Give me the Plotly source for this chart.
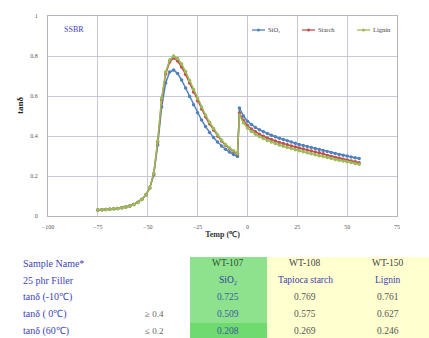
import plotly.graph_objects as go

# ---------------- data ----------------
temps_pre = [-75, -73, -71, -69, -67, -65, -63, -61, -59, -57, -55, -53, -51, -49, -47, -45, -43, -41, -39, -37,
             -35, -33, -31, -29, -27, -25, -23, -21, -19, -17, -15, -13, -11, -9, -7, -5]
temps_post = [-4, -2, 0, 2, 4, 6, 8, 10, 12, 14, 16, 18, 20, 22, 24, 26, 28, 30, 32, 34, 36, 38, 40, 42, 44,
              46, 48, 50, 52, 54, 56]

blue_pre = [0.030, 0.031, 0.032, 0.034, 0.036, 0.038, 0.041, 0.045, 0.050, 0.057, 0.068, 0.083, 0.105, 0.140,
            0.205, 0.355, 0.545, 0.665, 0.720, 0.730, 0.712, 0.680, 0.640, 0.598, 0.556, 0.516, 0.480, 0.447,
            0.418, 0.392, 0.370, 0.350, 0.334, 0.320, 0.308, 0.298]
blue_post = [0.540, 0.500, 0.474, 0.457, 0.443, 0.431, 0.421, 0.412, 0.404, 0.396, 0.389, 0.382, 0.376, 0.370,
             0.364, 0.358, 0.353, 0.347, 0.342, 0.337, 0.332, 0.327, 0.322, 0.317, 0.313, 0.308, 0.304, 0.300,
             0.295, 0.291, 0.287]

red_pre = [0.030, 0.031, 0.032, 0.034, 0.036, 0.038, 0.041, 0.045, 0.050, 0.057, 0.068, 0.083, 0.105, 0.140,
           0.210, 0.370, 0.580, 0.710, 0.770, 0.790, 0.775, 0.745, 0.708, 0.665, 0.620, 0.576, 0.535, 0.496,
           0.461, 0.430, 0.400, 0.375, 0.354, 0.336, 0.322, 0.310]
red_post = [0.515, 0.478, 0.452, 0.435, 0.421, 0.409, 0.399, 0.390, 0.382, 0.375, 0.368, 0.362, 0.356, 0.350,
            0.345, 0.340, 0.335, 0.330, 0.325, 0.320, 0.316, 0.311, 0.303, 0.298, 0.293, 0.289, 0.284, 0.280,
            0.275, 0.271, 0.266]

green_pre = [0.030, 0.031, 0.032, 0.034, 0.036, 0.038, 0.041, 0.045, 0.050, 0.057, 0.068, 0.083, 0.105, 0.140,
             0.212, 0.375, 0.590, 0.720, 0.780, 0.800, 0.788, 0.760, 0.722, 0.678, 0.632, 0.587, 0.545, 0.505,
             0.469, 0.437, 0.406, 0.380, 0.358, 0.340, 0.326, 0.313]
green_post = [0.505, 0.466, 0.440, 0.423, 0.409, 0.397, 0.387, 0.378, 0.370, 0.362, 0.355, 0.349, 0.343, 0.337,
              0.331, 0.326, 0.321, 0.316, 0.311, 0.306, 0.301, 0.297, 0.292, 0.288, 0.283, 0.279, 0.275, 0.271,
              0.267, 0.263, 0.259]

series_names = ["SiO₂", "Starch", "Lignin"]
series_colors = ["#4F81BD", "#C0504D", "#9BBB59"]

x_ticks = [-100, -75, -50, -25, 0, 25, 50, 75]
y_ticks = [0, 0.2, 0.4, 0.6, 0.8, 1]

row_labels = ["Sample Name*", "25 phr Filler", "tanδ (-10℃)", "tanδ ( 0℃)", "tanδ (60℃)"]
row_conditions = ["", "", "", "≥ 0.4", "≤ 0.2"]
col_samples = ["WT-107", "WT-108", "WT-150"]
col_fillers = ["SiO₂", "Tapioca starch", "Lignin"]
tan_m10 = ["0.725", "0.769", "0.761"]
tan_0 = ["0.509", "0.575", "0.627"]
tan_60 = ["0.208", "0.269", "0.246"]

# ---------------- figure ----------------
W, H = 429, 338
L, R, T, B = 48, 32, 16, 122
PW, PH = W - L - R, H - T - B


def px(x):
    return (x - L) / PW


def py(y):
    return (T + PH - y) / PH


def note(fig, text, x, y, size, color, xanchor="center", angle=0, family="Liberation Serif"):
    fig.add_annotation(text=text, x=px(x), y=py(y), xref="paper", yref="paper", xanchor=xanchor,
                       yanchor="middle", textangle=angle, showarrow=False,
                       font=dict(family=family, size=size, color=color))


fig = go.Figure()
pre_vals = [blue_pre, red_pre, green_pre]
post_vals = [blue_post, red_post, green_post]
for name, col, pre, post in zip(series_names, series_colors, pre_vals, post_vals):
    fig.add_trace(go.Scatter(
        x=temps_pre + temps_post, y=pre + post, name=name, mode="lines+markers",
        line=dict(color=col, width=1.5), marker=dict(color=col, size=3.5),
    ))

fig.update_layout(
    width=W, height=H, margin=dict(l=L, r=R, t=T, b=B, autoexpand=False),
    paper_bgcolor="white", plot_bgcolor="white",
    font=dict(family="Liberation Serif", size=6, color="#555555"),
    showlegend=False,
)
fig.update_xaxes(range=[-100, 75], tickvals=x_ticks, showgrid=True, gridcolor="#C8C8D4", gridwidth=1,
                 showline=True, linecolor="#B4B4BC", mirror=True, ticks="outside", ticklen=5,
                 tickcolor="rgba(0,0,0,0)", zeroline=False, automargin=False,
                 tickfont=dict(size=6, color="#555555"),
                 title=dict(text="<b>Temp (℃)</b>", font=dict(size=8, color="#333333"), standoff=2))
fig.update_yaxes(range=[0, 1], tickvals=y_ticks, showgrid=True, gridcolor="#C8C8D4", gridwidth=1,
                 showline=True, linecolor="#B4B4BC", mirror=True, ticks="outside", ticklen=8,
                 tickcolor="rgba(0,0,0,0)", zeroline=False, automargin=False,
                 tickfont=dict(size=6, color="#555555"))

# y-axis title
note(fig, "<b>tanδ</b>", 20, 105, 9, "#222222", angle=-90)
note(fig, "SSBR", 62, 30, 8, "#4040C0", xanchor="left")

# legend (drawn inside the plot, top right)
leg_x0 = [252, 302, 357]
leg_y = 30
for name, col, x0 in zip(series_names, series_colors, leg_x0):
    fig.add_shape(type="line", xref="paper", yref="paper", x0=px(x0), x1=px(x0 + 13), y0=py(leg_y),
                  y1=py(leg_y), line=dict(color=col, width=1.3))
    fig.add_shape(type="circle", xref="paper", yref="paper", x0=px(x0 + 5), x1=px(x0 + 8),
                  y0=py(leg_y - 1.5), y1=py(leg_y + 1.5), fillcolor=col, line=dict(width=0))
    note(fig, name, x0 + 14, leg_y, 6.5, "#444444", xanchor="left")

# ---------------- table ----------------
fig.add_shape(type="rect", xref="paper", yref="paper", x0=px(267), x1=px(429), y0=py(257), y1=py(338),
              fillcolor="#FFFFD0", line=dict(width=0), layer="below")
fig.add_shape(type="rect", xref="paper", yref="paper", x0=px(190), x1=px(267), y0=py(257), y1=py(338),
              fillcolor="#8EE28E", line=dict(width=0), layer="below")
fig.add_shape(type="rect", xref="paper", yref="paper", x0=px(190), x1=px(267), y0=py(323), y1=py(338),
              fillcolor="#6EDA70", line=dict(width=0), layer="below")

row_y = [263, 280, 297, 314, 331]
col_x = [228, 305, 388]
for lab, cond, yy in zip(row_labels, row_conditions, row_y):
    note(fig, lab, 21, yy, 10, "#3C44B4", xanchor="left")
    if cond:
        note(fig, cond, 154, yy, 9, "#666666")

cols_text = [col_samples, col_fillers, tan_m10, tan_0, tan_60]
row_colors = [["#2F4F2F", "#444444", "#444444"],
              ["#3040A0", "#4040B0", "#4040B0"],
              ["#3A5C98", "#555555", "#555555"],
              ["#3A5C98", "#555555", "#555555"],
              ["#3A5C98", "#555555", "#555555"]]
for r, (vals, yy) in enumerate(zip(cols_text, row_y)):
    for c, (v, xx) in enumerate(zip(vals, col_x)):
        note(fig, v, xx, yy, 9.5, row_colors[r][c])

fig.write_html("out.html", config={"displayModeBar": False},
               post_script="document.body.style.margin='0';document.body.style.overflow='hidden';")
